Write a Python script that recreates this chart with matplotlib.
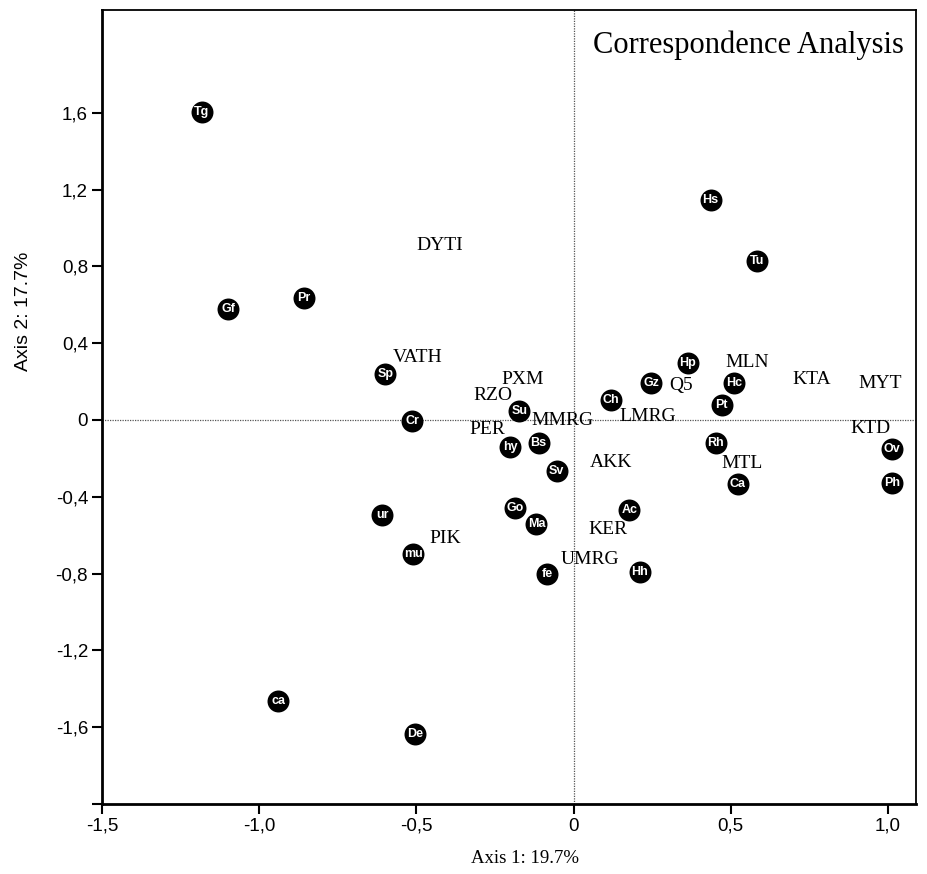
import matplotlib
matplotlib.use("Agg")
import matplotlib.pyplot as plt
from matplotlib import font_manager

# Species (filled circles)
species = ["Tg", "Gf", "Pr", "Sp", "Cr", "ur", "mu", "ca", "De", "Su", "hy", "Bs", "Sv",
           "Go", "Ma", "fe", "Ch", "Gz", "Hp", "Hs", "Tu", "Hc", "Pt", "Rh", "Ca", "Ac",
           "Hh", "Ov", "Ph"]
species_x = [-1.182, -1.099, -0.857, -0.599, -0.513, -0.608, -0.510, -0.939, -0.503,
             -0.172, -0.201, -0.111, -0.054, -0.185, -0.118, -0.083, 0.118, 0.248, 0.363,
             0.436, 0.583, 0.510, 0.471, 0.452, 0.522, 0.178, 0.210, 1.013, 1.013]
species_y = [1.604, 0.578, 0.635, 0.240, -0.005, -0.495, -0.698, -1.464, -1.635,
             0.047, -0.141, -0.120, -0.266, -0.458, -0.542, -0.802, 0.104, 0.193, 0.297,
             1.146, 0.828, 0.193, 0.078, -0.120, -0.333, -0.469, -0.792, -0.151, -0.328]

# Sites (text labels)
sites = ["DYTI", "VATH", "PXM", "RZO", "PER", "MMRG", "LMRG", "Q5", "MLN", "KTA", "MYT",
         "KTD", "AKK", "MTL", "KER", "UMRG", "PIK"]
sites_x = [-0.427, -0.497, -0.162, -0.255, -0.274, -0.035, 0.236, 0.341, 0.554, 0.758,
           0.975, 0.946, 0.118, 0.535, 0.111, 0.051, -0.408]
sites_y = [0.906, 0.323, 0.208, 0.125, -0.052, -0.005, 0.016, 0.177, 0.297, 0.208,
           0.188, -0.047, -0.224, -0.229, -0.573, -0.729, -0.620]

xticks = [-1.5, -1.0, -0.5, 0.0, 0.5, 1.0]
xticklabels = ["-1,5", "-1,0", "-0,5", "0", "0,5", "1,0"]
yticks = [-2.0, -1.6, -1.2, -0.8, -0.4, 0.0, 0.4, 0.8, 1.2, 1.6]
yticklabels = ["", "-1,6", "-1,2", "-0,8", "-0,4", "0", "0,4", "0,8", "1,2", "1,6"]

installed = {f.name for f in font_manager.fontManager.ttflist}
narrow = "Liberation Sans Narrow" if "Liberation Sans Narrow" in installed else None
sans = [narrow, "Liberation Sans", "DejaVu Sans"] if narrow else ["Liberation Sans", "DejaVu Sans"]
serif = ["Liberation Serif", "DejaVu Serif"]
tick_size = 15.5 if narrow else 13.5

fig = plt.figure(figsize=(9.27, 8.74), dpi=100)
ax = fig.add_axes([0.110, 0.0801, 0.878, 0.9085])
ax.set_xlim(-1.5, 1.089)
ax.set_ylim(-2.0, 2.135)

ax.axhline(0, color="#555555", lw=0.9, ls=(0, (1, 1)), zorder=1)
ax.axvline(0, color="#555555", lw=0.9, ls=(0, (1, 1)), zorder=1)

ax.scatter(species_x, species_y, s=250, c="black", zorder=3, linewidths=0)
for name, x, y in zip(species, species_x, species_y):
    ax.text(x, y, name, color="white", ha="center", va="center", fontsize=9,
            family=sans, fontweight="bold", zorder=4)

for name, x, y in zip(sites, sites_x, sites_y):
    ax.text(x, y, name, color="black", ha="center", va="center", fontsize=14,
            family=serif, zorder=2)

ax.text(0.985, 0.955, "Correspondence Analysis", transform=ax.transAxes, ha="right",
        va="center", fontsize=22, family=serif)

ax.set_xticks(xticks)
ax.set_xticklabels(xticklabels, family=sans, fontsize=tick_size)
ax.set_yticks(yticks)
ax.set_yticklabels(yticklabels, family=sans, fontsize=tick_size)
ax.tick_params(direction="out", length=7, width=1.5, pad=3)

for side in ["left", "bottom"]:
    ax.spines[side].set_linewidth(2.0)
for side in ["top", "right"]:
    ax.spines[side].set_linewidth(1.3)

fig.text(0.566, 0.018, "Axis 1: 19.7%", ha="center", va="center", fontsize=13.5, family=serif)
fig.text(0.025, 0.644, "Axis 2: 17.7%", ha="center", va="center", rotation=90,
         fontsize=14, family=sans)

fig.savefig("out.png", dpi=100, facecolor="white")
